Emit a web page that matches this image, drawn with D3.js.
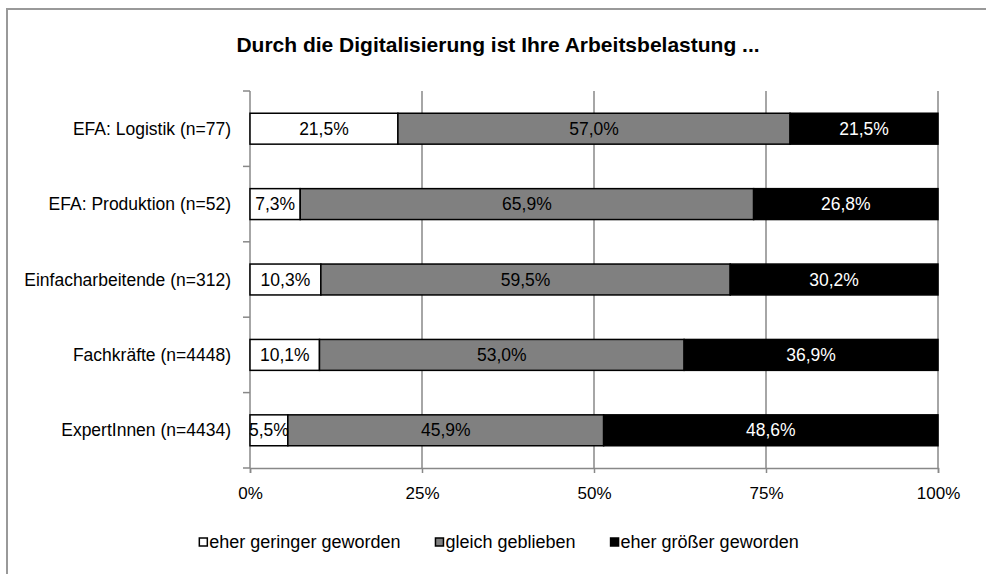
<!DOCTYPE html>
<html>
<head>
<meta charset="utf-8">
<script src="https://cdn.jsdelivr.net/npm/d3@7"></script>
<style>
  body { margin: 0; background: #fff; }
  text { font-family: "Liberation Sans", Arial, sans-serif; fill: #000; }
</style>
</head>
<body>
<div class="container"></div>
<script>
const WIDTH = 986;
const HEIGHT = 574;

const title = 'Durch die Digitalisierung ist Ihre Arbeitsbelastung ...';
const categories = [
    'EFA: Logistik (n=77)',
    'EFA: Produktion (n=52)',
    'Einfacharbeitende (n=312)',
    'Fachkräfte (n=4448)',
    'ExpertInnen (n=4434)'
];
const seriesNames = ['eher geringer geworden', 'gleich geblieben', 'eher größer geworden'];
const geringer = [21.5, 7.3, 10.3, 10.1, 5.5];
const gleich = [57.0, 65.9, 59.5, 53.0, 45.9];
const groesser = [21.5, 26.8, 30.2, 36.9, 48.6];
const xTicks = [0, 25, 50, 75, 100];

const colors = ['#ffffff', '#808080', '#000000'];
const labelColors = ['#000', '#000', '#fff'];

var translate = function(x, y) {
    return `translate(${x},${y})`;
};

var fmt = function(v) {
    return d3.format('.1f')(v).replace('.', ',') + '%';
};

var draw = function() {
    var svg = d3.select('.container').append('svg')
        .attr('width', WIDTH)
        .attr('height', HEIGHT);

    // outer frame (only top and left visible)
    svg.append('path')
        .attr('d', 'M7,574 L7,9 L986,9')
        .attr('fill', 'none')
        .attr('stroke', '#999')
        .attr('stroke-width', 2);

    svg.append('text')
        .attr('x', 498)
        .attr('y', 52)
        .attr('text-anchor', 'middle')
        .style('font-size', '21px')
        .style('font-weight', 'bold')
        .text(title);

    let x = d3.scaleLinear().domain([0, 100]).range([250, 938]);
    let y = d3.scaleBand().domain(categories).range([91, 468])
        .paddingInner(0.59).paddingOuter(0.295);
    let yEdge = d3.scaleBand().domain(categories).range([91, 468]).padding(0);

    // gridlines
    svg.append('g').selectAll('line')
        .data(xTicks.slice(1))
        .join('line')
        .attr('x1', d => x(d)).attr('x2', d => x(d))
        .attr('y1', 91).attr('y2', 468)
        .attr('stroke', '#888').attr('stroke-width', 1.5);

    // x axis
    let xAxis = d3.axisBottom(x).tickValues(xTicks).tickSize(5).tickPadding(14)
        .tickFormat(d => d + '%');
    let gx = svg.append('g')
        .attr('transform', translate(0, 468))
        .call(xAxis);
    gx.select('.domain').attr('stroke', '#888').attr('stroke-width', 1.5);
    gx.selectAll('.tick line').attr('stroke', '#888').attr('stroke-width', 1.5);
    gx.selectAll('.tick text')
        .style('font-size', '17px')
        .style('font-family', '"Liberation Sans", Arial, sans-serif')
        .attr('fill', '#000');

    // y axis line and ticks at band edges
    let edges = categories.map(c => yEdge(c)).concat([468]);
    let gy = svg.append('g');
    gy.append('line')
        .attr('x1', 250).attr('x2', 250)
        .attr('y1', 91).attr('y2', 468)
        .attr('stroke', '#888').attr('stroke-width', 1.5);
    gy.selectAll('.ytick')
        .data(edges)
        .join('line')
        .attr('class', 'ytick')
        .attr('x1', 243).attr('x2', 250)
        .attr('y1', d => d).attr('y2', d => d)
        .attr('stroke', '#888').attr('stroke-width', 1.5);

    svg.append('g').selectAll('text')
        .data(categories)
        .join('text')
        .attr('x', 231)
        .attr('y', d => y(d) + y.bandwidth() / 2)
        .attr('dy', '0.35em')
        .attr('text-anchor', 'end')
        .style('font-size', '17.5px')
        .text(d => d);

    // stacked bars
    let rows = categories.map((c, i) => ({ cat: c, v: [geringer[i], gleich[i], groesser[i]] }));
    let segs = [];
    rows.forEach(r => {
        let acc = 0;
        r.v.forEach((v, k) => {
            segs.push({ cat: r.cat, k: k, x0: acc, x1: acc + v, v: v });
            acc += v;
        });
    });

    let gb = svg.append('g');
    gb.selectAll('rect')
        .data(segs)
        .join('rect')
        .attr('x', d => x(d.x0))
        .attr('width', d => x(d.x1) - x(d.x0))
        .attr('y', d => y(d.cat))
        .attr('height', y.bandwidth())
        .attr('fill', d => colors[d.k])
        .attr('stroke', '#000')
        .attr('stroke-width', 1.5);

    gb.selectAll('text')
        .data(segs)
        .join('text')
        .attr('x', d => (x(d.x0) + x(d.x1)) / 2)
        .attr('y', d => y(d.cat) + y.bandwidth() / 2)
        .attr('dy', '0.35em')
        .attr('text-anchor', 'middle')
        .style('font-size', '17.5px')
        .style('fill', d => labelColors[d.k])
        .text(d => fmt(d.v));

    // legend
    let lg = svg.append('g');
    let items = lg.selectAll('g')
        .data(seriesNames)
        .join('g');
    items.append('rect')
        .attr('width', 8).attr('height', 8)
        .attr('y', -4)
        .attr('fill', (d, i) => colors[i])
        .attr('stroke', '#000')
        .attr('stroke-width', 1.5);
    items.append('text')
        .attr('x', 10)
        .attr('dy', '0.35em')
        .style('font-size', '18px')
        .text(d => d);
    let pos = 0;
    let offsets = [];
    items.each(function() {
        offsets.push(pos);
        pos += this.getBBox().width + 35;
    });
    let total = pos - 35;
    let start = 499 - total / 2;
    items.attr('transform', (d, i) => translate(start + offsets[i], 542));
};

window.onload = draw;
</script>
</body>
</html>
